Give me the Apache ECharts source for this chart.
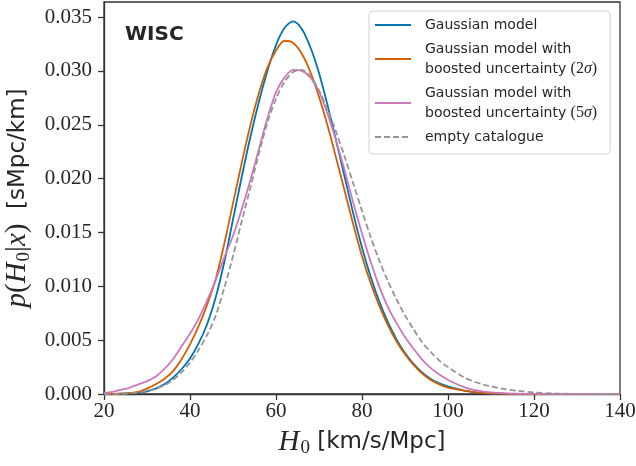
<!DOCTYPE html>
<html>
<head>
<meta charset="utf-8">
<script src="https://cdn.jsdelivr.net/npm/echarts@6/dist/echarts.min.js"></script>
<style>
html,body{margin:0;padding:0;background:#fff;}
#chart{width:636px;height:466px;}
</style>
</head>
<body>
<div id="chart"></div>
<script>
// H0 grid (km/s/Mpc)
const H0 = [20,22,24,26,28,30,32,34,36,38,40,42,44,46,48,50,52,54,56,58,60,62,64,66,68,70,72,74,76,78,80,82,84,86,88,90,92,94,96,98,100,104,108,112,116,120,125,130,140];

const gaussianModel = [0,0.00001,0.00003,0.00007,0.00013,0.00025,0.0005,0.0009,0.0015,0.0023,0.0033,0.0047,0.0065,0.0090,0.0123,0.0162,0.0201,0.0238,0.0271,0.0300,0.0324,0.0340,0.0346,0.0339,0.0322,0.0298,0.0268,0.0235,0.0201,0.0167,0.0136,0.0109,0.0086,0.0067,0.0051,0.0038,0.0028,0.0020,0.0014,0.0010,0.0007,0.0003,0.0001,0.00003,0.00001,0,0,0,0];

const boosted2sigma = [0,0.00001,0.00003,0.00008,0.0002,0.0005,0.0009,0.0014,0.0021,0.0032,0.0046,0.0063,0.0083,0.0107,0.0140,0.0177,0.0214,0.0249,0.0279,0.0303,0.0319,0.0328,0.0326,0.0316,0.0299,0.0276,0.0249,0.0219,0.0188,0.0157,0.0128,0.0103,0.0082,0.0064,0.0049,0.0037,0.0027,0.0019,0.0013,0.0009,0.0006,0.0003,0.0001,0.00003,0.00001,0,0,0,0];

const boosted5sigma = [0.0001,0.0002,0.0004,0.0006,0.0009,0.0012,0.0016,0.0023,0.0032,0.0044,0.0056,0.0070,0.0087,0.0106,0.0127,0.0147,0.0171,0.0198,0.0227,0.0256,0.0280,0.0294,0.0301,0.0300,0.0294,0.0281,0.0260,0.0235,0.0207,0.0177,0.0149,0.0123,0.0100,0.0081,0.0066,0.0053,0.0042,0.0032,0.0024,0.0018,0.0013,0.0006,0.00025,0.0001,0.00003,0.00001,0,0,0];

const emptyCatalogue = [0,0.00001,0.00003,0.00007,0.00015,0.0003,0.0005,0.0008,0.0013,0.0020,0.0029,0.0041,0.0055,0.0073,0.0099,0.0128,0.0160,0.0191,0.0223,0.0252,0.0274,0.0290,0.0299,0.0301,0.0295,0.0282,0.0264,0.0243,0.0220,0.0195,0.0170,0.0146,0.0124,0.0105,0.0088,0.0073,0.0060,0.0048,0.0039,0.0031,0.0025,0.0015,0.0009,0.00054,0.0003,0.00015,0.00005,0.00001,0];

const seriesNames = ['Gaussian model','Gaussian model with boosted uncertainty (2σ)','Gaussian model with boosted uncertainty (5σ)','empty catalogue'];
const legendLabels = [
  'Gaussian model',
  'Gaussian model with\nboosted uncertainty {r|(2}{i|σ}{r|)}',
  'Gaussian model with\nboosted uncertainty {r|(5}{i|σ}{r|)}',
  'empty catalogue'
];
const colors = ['#0173B2','#D55E00','#CC78BC','#949494'];

const seriesValues = [gaussianModel, boosted2sigma, boosted5sigma, emptyCatalogue];

const SERIF = "'Liberation Serif', serif";
const SANS = "'DejaVu Sans', sans-serif";
const INK = '#262626';

const chart = echarts.init(document.getElementById('chart'), null, {renderer:'canvas'});

const mathRich = {
  i: {fontFamily: SERIF, fontStyle: 'italic', fontSize: 29, color: INK},
  r: {fontFamily: SERIF, fontSize: 29, color: INK},
  s: {fontFamily: SERIF, fontSize: 19, color: INK, padding: [13, 0, 0, 1]},
  t: {fontFamily: SANS, fontSize: 23, color: INK}
};

chart.setOption({
  animation: false,
  title: {
    text: 'WISC', left: 120, top: 20,
    textStyle: {fontFamily: SANS, fontWeight: 'bold', fontSize: 20, color: INK}
  },
  grid: {left: 104, right: 16, top: 2, bottom: 72, outerBoundsMode: 'none', containLabel: false, show: true, borderColor: '#333', borderWidth: 1.3, backgroundColor: 'transparent'},
  legend: {
    orient: 'vertical', left: 369, top: 11,
    data: seriesNames,
    itemWidth: 36, itemHeight: 14, itemGap: 4,
    padding: [4, 13, 7, 5],
    itemStyle: {opacity: 0},
    borderColor: '#d0d0d0', borderWidth: 1, borderRadius: 4,
    backgroundColor: 'rgba(255,255,255,0.85)',
    formatter: function(name){ return legendLabels[seriesNames.indexOf(name)]; },
    textStyle: {
      fontFamily: SANS, fontSize: 14, color: INK, lineHeight: 20, padding: [0,0,0,9],
      rich: {
        r: {fontFamily: SERIF, fontSize: 16, color: INK, lineHeight: 20},
        i: {fontFamily: SERIF, fontStyle: 'italic', fontSize: 16, color: INK, lineHeight: 20}
      }
    }
  },
  xAxis: {
    type: 'value', min: 20, max: 140, interval: 20,
    name: '{i|H}{s|0}{t| [km/s/Mpc]}',
    nameLocation: 'middle', nameGap: 32,
    nameTextStyle: {rich: mathRich},
    axisLine: {show: true, onZero: false, lineStyle: {color: '#333', width: 1.3}},
    axisTick: {show: true, inside: false, length: 6, lineStyle: {color: '#333', width: 1.3}},
    axisLabel: {fontFamily: SERIF, fontSize: 21, color: INK, margin: 7},
    splitLine: {show: false}
  },
  yAxis: {
    type: 'value', min: 0, max: 0.0364, interval: 0.005,
    name: '{i|p}{r|(}{i|H}{s|0}{r||}{i|x}{r|)}{t|  [sMpc/km]}',
    nameLocation: 'middle', nameGap: 62, nameRotate: 90,
    nameTextStyle: {rich: mathRich},
    axisLine: {show: true, onZero: false, lineStyle: {color: '#333', width: 1.3}},
    axisTick: {show: true, inside: false, length: 6, lineStyle: {color: '#333', width: 1.3}},
    axisLabel: {
      fontFamily: SERIF, fontSize: 21, color: INK, margin: 12, showMaxLabel: false,
      formatter: function(v){ return v.toFixed(3); }
    },
    splitLine: {show: false}
  },
  series: seriesNames.map(function(name, k){
    return {
      name: name, type: 'line', smooth: 0.3, symbol: 'none', showSymbol: false,
      data: H0.map(function(h, i){ return [h, seriesValues[k][i]]; }),
      lineStyle: {color: colors[k], width: 1.8, type: k === 3 ? [6, 3] : 'solid'},
      itemStyle: {color: colors[k]},
      z: 2 + k
    };
  })
});
</script>
</body>
</html>
